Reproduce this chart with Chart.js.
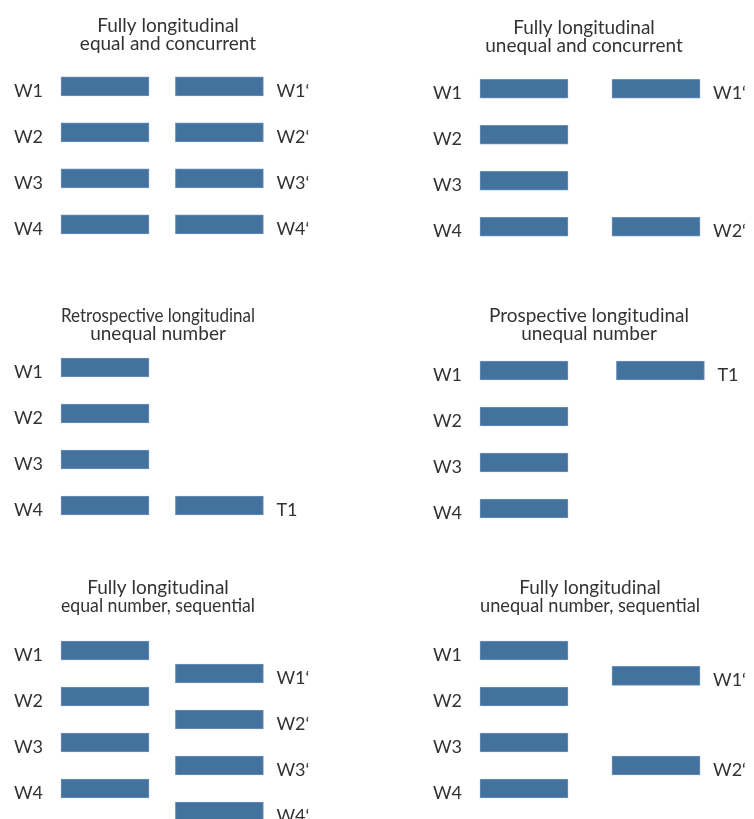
<!DOCTYPE html>
<html>
<head>
<meta charset="utf-8">
<script src="https://cdn.jsdelivr.net/npm/chart.js@4"></script>
<style>
  html, body { margin: 0; padding: 0; background: #ffffff; }
  body { width: 754px; height: 819px; overflow: hidden; position: relative; }
  canvas { position: absolute; }
</style>
</head>
<body>
<canvas id="c1"></canvas>
<canvas id="c2"></canvas>
<canvas id="c3"></canvas>
<canvas id="c4"></canvas>
<canvas id="c5"></canvas>
<canvas id="c6"></canvas>
<script>
// ---------- data ----------
const panelTitles = [
  ['Fully longitudinal', 'equal and concurrent'],
  ['Fully longitudinal', 'unequal and concurrent'],
  ['Retrospective longitudinal', 'unequal number'],
  ['Prospective longitudinal', 'unequal number'],
  ['Fully longitudinal', 'equal number, sequential'],
  ['Fully longitudinal', 'unequal number, sequential']
];

// first study: waves W1..W4 (same in every panel)
const leftLabels = ['W1', 'W2', 'W3', 'W4'];
const leftRows = [1, 2, 3, 4];
const leftSpan = [0, 10];

// second study per panel
const p1RightLabels = ['W1\u2018', 'W2\u2018', 'W3\u2018', 'W4\u2018'];
const p1RightRows = [1, 2, 3, 4];
const p1RightSpan = [13, 23];

const p2RightLabels = ['W1\u2018', 'W2\u2018'];
const p2RightRows = [1, 4];
const p2RightSpan = [15, 25];

const p3RightLabels = ['T1'];
const p3RightRows = [4];
const p3RightSpan = [13, 23];

const p4RightLabels = ['T1'];
const p4RightRows = [1];
const p4RightSpan = [15.5, 25.5];

const p5RightLabels = ['W1\u2018', 'W2\u2018', 'W3\u2018', 'W4\u2018'];
const p5RightRows = [1.5, 2.5, 3.5, 4.5];
const p5RightSpan = [13, 23];

const p6RightLabels = ['W1\u2018', 'W2\u2018'];
const p6RightRows = [1.55, 3.5];
const p6RightSpan = [15, 25];

const rightSets = [
  [p1RightLabels, p1RightRows, p1RightSpan],
  [p2RightLabels, p2RightRows, p2RightSpan],
  [p3RightLabels, p3RightRows, p3RightSpan],
  [p4RightLabels, p4RightRows, p4RightSpan],
  [p5RightLabels, p5RightRows, p5RightSpan],
  [p6RightLabels, p6RightRows, p6RightSpan]
];

// ---------- layout (pixels) ----------
const layoutSpec = [
  // canvas left, top, width, height, title centre x (canvas), title line1 centre y, chart top, chart left
  { left: 0,   top: 0,   w: 377, h: 290, tcx: 168, t1: 26,  ctop: 63.3,  cleft: 61 },
  { left: 377, top: 0,   w: 377, h: 290, tcx: 207, t1: 28,  ctop: 65.75, cleft: 103 },
  { left: 0,   top: 290, w: 377, h: 270, tcx: 158, t1: 26,  ctop: 54.5,  cleft: 61 },
  { left: 377, top: 290, w: 377, h: 270, tcx: 212, t1: 26,  ctop: 57.5,  cleft: 103 },
  { left: 0,   top: 560, w: 377, h: 290, tcx: 158, t1: 28,  ctop: 67.5,  cleft: 61 },
  { left: 377, top: 560, w: 377, h: 290, tcx: 213, t1: 28,  ctop: 67.5,  cleft: 103 }
];
const pxPerUnit = 8.8;
const rowPx = 46;
const yMin = 0.5, yMax = 5;
const titleSize = 19, titleLH = 18;

const barColor = '#44729f';
const barBorder = '#6a91ba';
const textColor = '#333333';

const labelPlugin = {
  id: 'sideLabels',
  afterDatasetsDraw(chart) {
    const ctx = chart.ctx;
    ctx.save();
    ctx.font = '18px Lato';
    ctx.fillStyle = textColor;
    ctx.textBaseline = 'alphabetic';
    chart.data.datasets.forEach((ds, di) => {
      const meta = chart.getDatasetMeta(di);
      meta.data.forEach((el, i) => {
        const p = el.getProps(['x', 'y', 'base'], true);
        const lo = Math.min(p.x, p.base), hi = Math.max(p.x, p.base);
        const txt = ds.data[i].label;
        const y = p.y + 10.5;
        if (ds.side === 'left') {
          ctx.textAlign = 'right';
          ctx.fillText(txt, lo - 18, y);
        } else {
          ctx.textAlign = 'left';
          ctx.fillText(txt, hi + 13, y);
        }
      });
    });
    ctx.restore();
  }
};

function makePanel(idx) {
  const s = layoutSpec[idx];
  const cv = document.getElementById('c' + (idx + 1));
  cv.width = s.w; cv.height = s.h;
  cv.style.left = s.left + 'px'; cv.style.top = s.top + 'px';
  cv.style.width = s.w + 'px'; cv.style.height = s.h + 'px';

  const chartH = (yMax - yMin) * rowPx;
  const padTop = s.t1 - titleLH / 2;
  const titlePadBottom = s.ctop - padTop - 2 * titleLH;
  const padBottom = s.h - s.ctop - chartH;
  const chartR = 2 * s.tcx - s.cleft;
  const padRight = s.w - chartR;
  const xMax = (chartR - s.cleft) / pxPerUnit;

  const [rl, rr, rs] = rightSets[idx];
  const leftData = leftRows.map((r, i) => ({ x: leftSpan, y: r, label: leftLabels[i] }));
  const rightData = rr.map((r, i) => ({ x: rs, y: r, label: rl[i] }));

  new Chart(cv, {
    type: 'bar',
    data: {
      datasets: [
        { side: 'left', data: leftData, backgroundColor: barColor, borderColor: barBorder,
          borderWidth: 1, borderSkipped: false, barThickness: 19, grouped: false, clip: false },
        { side: 'right', data: rightData, backgroundColor: barColor, borderColor: barBorder,
          borderWidth: 1, borderSkipped: false, barThickness: 19, grouped: false, clip: false }
      ]
    },
    options: {
      indexAxis: 'y',
      responsive: false,
      animation: false,
      devicePixelRatio: 1,
      layout: { padding: { top: padTop, left: s.cleft, right: padRight, bottom: padBottom } },
      scales: {
        x: { type: 'linear', min: 0, max: xMax, display: false },
        y: { type: 'linear', min: yMin, max: yMax, reverse: true, offset: false, display: false }
      },
      plugins: {
        legend: { display: false },
        tooltip: { enabled: false },
        title: {
          display: true,
          text: panelTitles[idx],
          color: textColor,
          font: { family: 'Lato', size: titleSize, weight: 'normal', lineHeight: titleLH / titleSize },
          padding: { top: 0, bottom: titlePadBottom }
        }
      }
    },
    plugins: [labelPlugin]
  });
}

for (let i = 0; i < 6; i++) makePanel(i);
</script>
</body>
</html>
